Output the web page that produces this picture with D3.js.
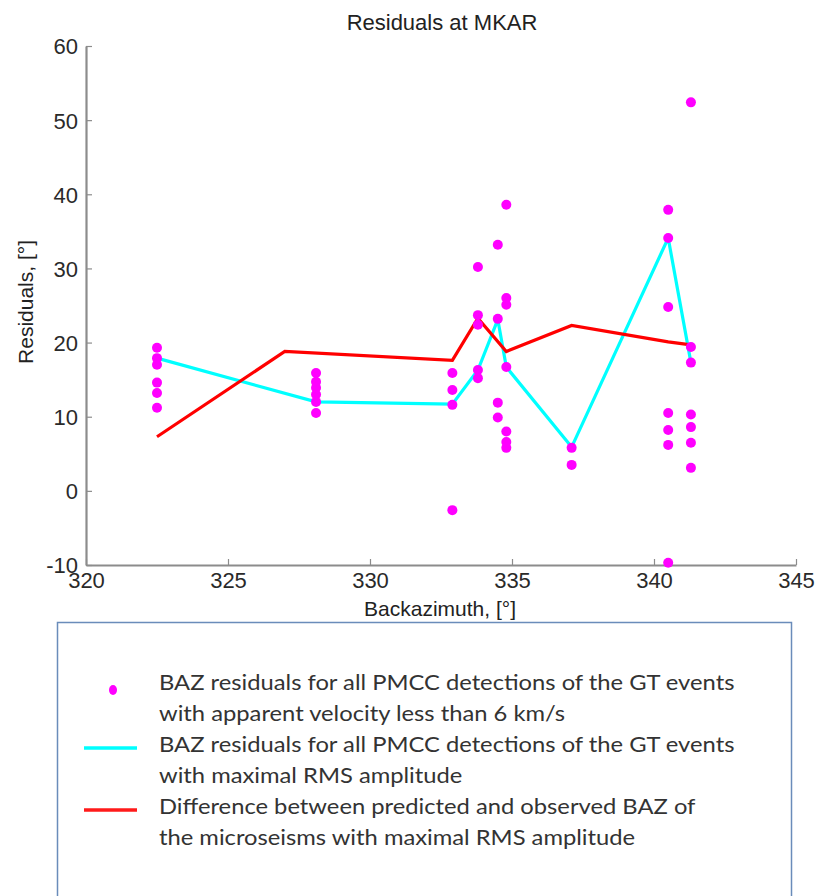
<!DOCTYPE html>
<html>
<head>
<meta charset="utf-8">
<script src="https://cdn.jsdelivr.net/npm/d3@7"></script>
<style>
  body { margin: 0; background: #fff; }
  svg { display: block; }
</style>
</head>
<body>
<div id="chart"></div>
<script>
// backazimuth of each group of PMCC detections and their residuals
const dotBaz = [322.5, 328.1, 332.9, 333.8, 334.5, 334.8, 337.1, 340.5, 341.3];
const dotResiduals = [
    [19.3, 17.9, 17.0, 14.6, 13.2, 11.2],
    [15.9, 14.7, 13.9, 13.0, 12.0, 10.5],
    [15.9, 13.6, 11.6, -2.6],
    [30.2, 23.7, 22.4, 16.3, 15.2],
    [33.2, 23.2, 11.9, 9.9],
    [38.6, 26.0, 25.1, 16.7, 8.0, 6.6, 5.8],
    [5.8, 3.5],
    [37.9, 34.1, 24.8, 10.5, 8.2, 6.2, -9.7],
    [52.4, 19.4, 17.3, 10.3, 8.6, 6.5, 3.1]
];

// max RMS amplitude detections (cyan)
const rmsBaz = [322.5, 328.1, 332.9, 333.8, 334.5, 334.8, 337.1, 340.5, 341.3];
const rmsResiduals = [17.9, 12.0, 11.7, 16.3, 23.1, 16.7, 5.9, 34.1, 17.3];

// predicted - observed microseisms (red)
const microBaz = [322.5, 327.0, 332.9, 333.8, 334.8, 337.1, 340.5, 341.3];
const microDiff = [7.3, 18.8, 17.6, 23.3, 18.8, 22.3, 20.1, 19.7];

const xTicks = [320, 325, 330, 335, 340, 345];
const yTicks = [-10, 0, 10, 20, 30, 40, 50, 60];

const legendItems = [
    {type: 'dot', color: '#ff00ff', lines: ['BAZ residuals for all PMCC detections of the GT events', 'with apparent velocity less than 6 km/s']},
    {type: 'line', color: '#00ffff', lines: ['BAZ residuals for all PMCC detections of the GT events', 'with maximal RMS amplitude']},
    {type: 'line', color: '#ff1a1a', lines: ['Difference between predicted and observed BAZ of', 'the microseisms with maximal RMS amplitude']}
];

let width = 817, height = 896;
let svg = d3.select('#chart').append('svg')
    .attr('width', width)
    .attr('height', height);

let x = d3.scaleLinear().domain([320, 345]).range([86, 796]);
let y = d3.scaleLinear().domain([-10, 60]).range([565, 46]);

const axisFont = "'Liberation Sans', Arial, sans-serif";

// title
svg.append('text')
    .attr('x', 442).attr('y', 30)
    .attr('text-anchor', 'middle')
    .style('font-family', axisFont)
    .style('font-size', '22px')
    .attr('fill', '#222')
    .text('Residuals at MKAR');

// axes
let xAxis = svg.append('g')
    .attr('transform', `translate(0,${y(-10)})`)
    .call(d3.axisBottom(x).tickValues(xTicks).tickFormat(d => String(d))
        .tickSizeInner(-6).tickSizeOuter(0).tickPadding(7));
let yAxis = svg.append('g')
    .attr('transform', `translate(${x(320)},0)`)
    .call(d3.axisLeft(y).tickValues(yTicks).tickFormat(d => String(d))
        .tickSizeInner(-6).tickSizeOuter(0).tickPadding(8));

[xAxis, yAxis].forEach(a => {
    a.select('.domain').attr('stroke', '#8c8c8c').attr('stroke-width', 2.2);
    a.selectAll('.tick line').attr('stroke', '#8c8c8c').attr('stroke-width', 1.2);
    a.selectAll('.tick text')
        .attr('fill', '#2a2a2a')
        .style('font-family', axisFont)
        .style('font-size', '22px');
});
yAxis.selectAll('.tick text').attr('dy', '0.36em');

// axis labels
svg.append('text')
    .attr('x', 440).attr('y', 616)
    .attr('text-anchor', 'middle')
    .style('font-family', axisFont)
    .style('font-size', '21px')
    .attr('fill', '#222')
    .text('Backazimuth, [°]');

svg.append('text')
    .attr('transform', 'translate(33,302) rotate(-90)')
    .attr('text-anchor', 'middle')
    .style('font-family', axisFont)
    .style('font-size', '21px')
    .attr('fill', '#222')
    .text('Residuals, [°]');

// lines
let line = d3.line().x(d => x(d[0])).y(d => y(d[1]));

svg.append('path')
    .datum(rmsBaz.map((b, i) => [b, rmsResiduals[i]]))
    .attr('d', line)
    .attr('fill', 'none')
    .attr('stroke', '#00ffff')
    .attr('stroke-width', 3.2);

svg.append('path')
    .datum(microBaz.map((b, i) => [b, microDiff[i]]))
    .attr('d', line)
    .attr('fill', 'none')
    .attr('stroke', '#ff0000')
    .attr('stroke-width', 3.2);

// dots
let dots = [];
dotBaz.forEach((b, i) => dotResiduals[i].forEach(r => dots.push({baz: b, res: r})));

svg.append('g')
    .selectAll('circle')
    .data(dots)
    .enter().append('circle')
    .attr('cx', d => x(d.baz))
    .attr('cy', d => y(d.res))
    .attr('r', 5)
    .attr('fill', '#ff00ff');

// legend box
let legend = svg.append('g');
legend.append('rect')
    .attr('x', 57.5).attr('y', 622.5)
    .attr('width', 734).attr('height', 300)
    .attr('fill', 'none')
    .attr('stroke', '#6a8cba')
    .attr('stroke-width', 1.5);

const legendFont = "Lato, 'Open Sans', sans-serif";
legendItems.forEach((item, i) => {
    let top = 690 + i * 62;
    if (item.type === 'dot') {
        legend.append('ellipse')
            .attr('cx', 113).attr('cy', top)
            .attr('rx', 4).attr('ry', 5)
            .attr('fill', item.color);
    } else {
        legend.append('line')
            .attr('x1', 84).attr('x2', 137)
            .attr('y1', top - 4).attr('y2', top - 4)
            .attr('stroke', item.color)
            .attr('stroke-width', 3.5);
    }
    item.lines.forEach((t, j) => {
        legend.append('text')
            .attr('transform', `translate(159,${top + j * 31}) scale(1.08,1)`)
            .style('font-family', legendFont)
            .style('font-size', '22px')
            .attr('fill', '#333')
            .text(t);
    });
});
</script>
</body>
</html>
